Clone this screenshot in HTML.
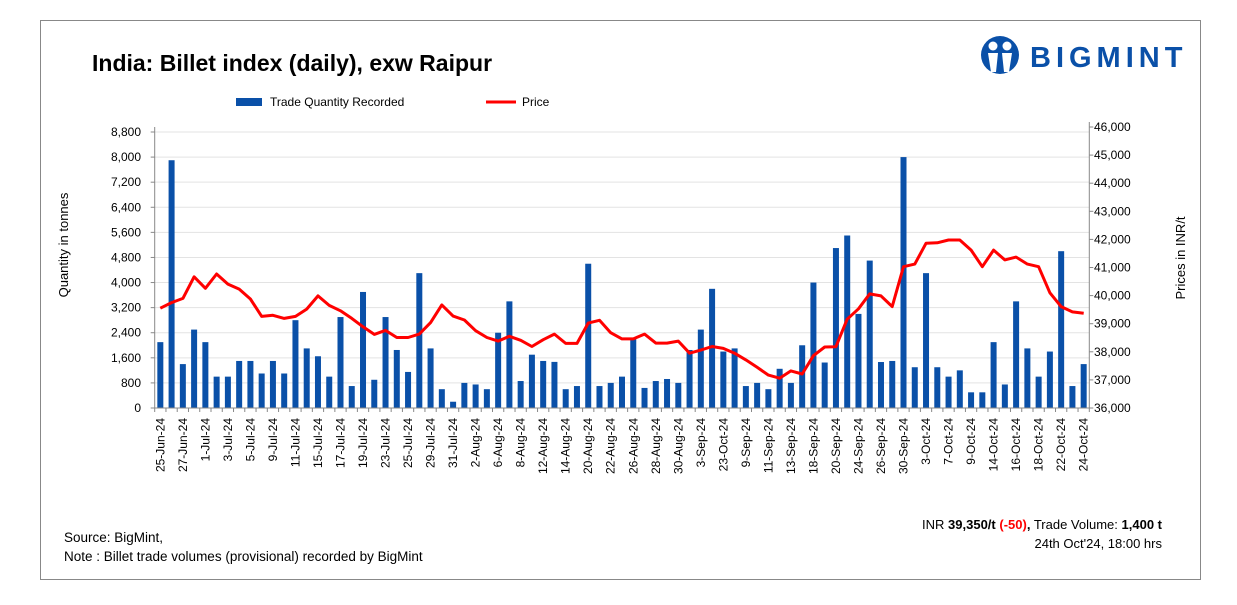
<!DOCTYPE html>
<html><head><meta charset="utf-8">
<style>
body{margin:0;background:#fff;font-family:"Liberation Sans",Arial,sans-serif;}
#wrap{position:relative;width:1237px;height:605px;overflow:hidden;}
svg text{font-family:"Liberation Sans",Arial,sans-serif;}
</style></head>
<body>
<div id="wrap">
<svg id="chart" width="1237" height="605">
<rect x="40.5" y="20.5" width="1160" height="559" fill="#fff" stroke="#888"/>
<text x="92" y="71" font-size="23" font-weight="bold" fill="#000">India: Billet index (daily), exw Raipur</text>
<g>
<circle cx="1000" cy="55" r="19" fill="#0a50a8"/>
<circle cx="993" cy="46" r="4.5" fill="#fff"/>
<circle cx="1007" cy="46" r="4.5" fill="#fff"/>
<path d="M988 53 L998 53 L996 72 L991 72 Z M1002 53 L1012 53 L1009 72 L1004 72 Z" fill="#fff"/>
<text x="1030" y="67" font-size="29" font-weight="bold" fill="#0a50a8" letter-spacing="5">BIGMINT</text>
</g>
<g>
<rect x="236" y="98" width="26" height="8" fill="#0a50a8"/>
<text x="270" y="106" font-size="12">Trade Quantity Recorded</text>
<line x1="486" y1="102" x2="516" y2="102" stroke="#ff0000" stroke-width="3"/>
<text x="522" y="106" font-size="12">Price</text>
</g>
<text transform="translate(68,245) rotate(-90)" text-anchor="middle" font-size="13">Quantity in tonnes</text>
<text transform="translate(1185,258) rotate(-90)" text-anchor="middle" font-size="13">Prices in INR/t</text>
<g id="grid"></g><g id="bars"></g><g id="line"></g><g id="axes"></g>
<text x="64" y="542" font-size="13.5">Source: BigMint,</text>
<text x="64" y="561" font-size="13.5">Note : Billet trade volumes (provisional) recorded by BigMint</text>
<text x="1162" y="529" text-anchor="end" font-size="13">INR <tspan font-weight="bold">39,350/t </tspan><tspan font-weight="bold" fill="#ff0000">(-50)</tspan><tspan font-weight="bold">,</tspan> Trade Volume: <tspan font-weight="bold">1,400 t</tspan></text>
<text x="1162" y="548" text-anchor="end" font-size="13">24th Oct'24, 18:00 hrs</text>
</svg>
</div>
<script>
const quantities=[2100,7900,1400,2500,2100,1000,1000,1500,1500,1100,1500,1100,2800,1900,1650,1000,2900,700,3700,900,2900,1850,1150,4300,1900,600,200,800,750,600,2400,3400,860,1700,1500,1470,600,700,4600,700,800,1000,2200,640,860,925,800,1850,2500,3800,1800,1900,700,800,600,1250,800,2000,4000,1450,5100,5500,3000,4700,1466,1500,8000,1300,4300,1300,1000,1200,500,500,2100,750,3400,1900,1000,1800,5000,700,1400];
const prices=[39550,39750,39900,40670,40260,40770,40410,40230,39880,39260,39300,39190,39260,39520,39990,39650,39460,39190,38890,38620,38760,38510,38510,38630,39040,39670,39270,39130,38750,38510,38380,38550,38410,38190,38430,38630,38300,38300,39020,39120,38680,38460,38460,38630,38310,38310,38380,37950,38060,38190,38120,37950,37710,37450,37170,37060,37320,37210,37860,38170,38180,39160,39530,40060,39990,39610,41030,41120,41860,41880,41980,41980,41620,41030,41620,41270,41370,41120,41030,40100,39610,39420,39370];
const xLabels=["25-Jun-24","27-Jun-24","1-Jul-24","3-Jul-24","5-Jul-24","9-Jul-24","11-Jul-24","15-Jul-24","17-Jul-24","19-Jul-24","23-Jul-24","25-Jul-24","29-Jul-24","31-Jul-24","2-Aug-24","6-Aug-24","8-Aug-24","12-Aug-24","14-Aug-24","20-Aug-24","22-Aug-24","26-Aug-24","28-Aug-24","30-Aug-24","3-Sep-24","23-Oct-24","9-Sep-24","11-Sep-24","13-Sep-24","18-Sep-24","20-Sep-24","24-Sep-24","26-Sep-24","30-Sep-24","3-Oct-24","7-Oct-24","9-Oct-24","14-Oct-24","16-Oct-24","18-Oct-24","22-Oct-24","24-Oct-24"];
const leftTicks=[0,800,1600,2400,3200,4000,4800,5600,6400,7200,8000,8800];
const rightTicks=[36000,37000,38000,39000,40000,41000,42000,43000,44000,45000,46000];
const NS="http://www.w3.org/2000/svg";
const X0=154.7,X1=1089.3,Y0=408,YT=132;
const n=quantities.length,cw=(X1-X0)/n;
const xc=i=>X0+cw*(i+0.5);
const yL=v=>Y0-(v/8800)*(Y0-YT);
const yR=v=>Y0-((v-36000)/10000)*(Y0-127);
function mk(tag,attrs,parent){const e=document.createElementNS(NS,tag);for(const k in attrs)e.setAttribute(k,attrs[k]);parent.appendChild(e);return e;}
const grid=document.getElementById('grid'),bars=document.getElementById('bars'),line=document.getElementById('line'),axes=document.getElementById('axes');
leftTicks.forEach(t=>{
 const y=yL(t);
 if(t>0){const g=mk('line',{x1:X0,x2:X1,y1:y,y2:y,stroke:'#e3e3e3','stroke-width':1},grid);
 
 }
 const tk=mk('line',{x1:X0-4,x2:X0,y1:y,y2:y,stroke:'#888'},axes);
 
 
 const tx=mk('text',{x:141,y:y+4,'text-anchor':'end','font-size':12},axes);
 tx.textContent=t.toLocaleString('en-US');
 
 
});
rightTicks.forEach(t=>{
 const y=yR(t);
 const tk=mk('line',{x1:X1,x2:X1+4,y1:y,y2:y,stroke:'#888'},axes);
 
 
 const tx=mk('text',{x:1094,y:y+4,'font-size':12},axes);
 tx.textContent=t.toLocaleString('en-US');
 
 
});
quantities.forEach((v,i)=>{
 const b=mk('rect',{x:xc(i)-3,y:yL(v),width:6,height:Y0-yL(v),fill:'#0a50a8'},bars);
 
 
});
const pl=mk('polyline',{points:prices.map((p,i)=>xc(i).toFixed(1)+','+yR(p).toFixed(1)).join(' '),fill:'none',stroke:'#ff0000','stroke-width':3,'stroke-linejoin':'round'},line);


const al=mk('line',{x1:X0,x2:X0,y1:127,y2:Y0,stroke:'#888'},axes);


const ar=mk('line',{x1:X1,x2:X1,y1:122,y2:Y0,stroke:'#888'},axes);


const ab=mk('line',{x1:X0,x2:X1,y1:Y0,y2:Y0,stroke:'#888'},axes);


for(let i=0;i<=n;i++){
 const x=X0+cw*i;
 const t=mk('line',{x1:x,x2:x,y1:Y0,y2:Y0+4,stroke:'#888'},axes);
 
 
}
xLabels.forEach((l,j)=>{
 const x=xc(j*2)+4;
 const t=mk('text',{transform:'translate('+x.toFixed(1)+',418) rotate(-90)','text-anchor':'end','font-size':12},axes);
 t.textContent=l;
 
 
});
</script>
</body></html>
